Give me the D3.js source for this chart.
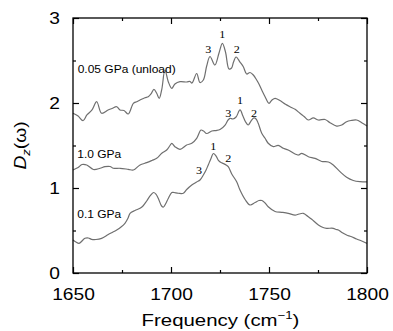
<!DOCTYPE html>
<html>
<head>
<meta charset="utf-8">
<script src="https://cdn.jsdelivr.net/npm/d3@7"></script>
<style>
  html, body { margin: 0; padding: 0; background: #fff; }
  svg { display: block; }
  .tick text { font-family: "Liberation Sans", Arial, sans-serif; fill: #000; }
  .peak { font-family: "Liberation Serif", "Times New Roman", serif; font-size: 11px; fill: #000; }
  .series-label { font-family: "Liberation Sans", Arial, sans-serif; font-size: 10px; fill: #000; }
  .axis-title { font-family: "Liberation Sans", Arial, sans-serif; font-size: 17px; fill: #000; }
</style>
</head>
<body>
<div id="chart"></div>
<script>
'use strict';

// Spectra: [frequency cm^-1, D_z]
const unload005 = [
    [1650, 1.879], [1652.6, 1.847], [1655.1, 1.792], [1657.1, 1.859], [1659.7, 1.918],
    [1662.1, 2.015], [1664.6, 1.879], [1667.9, 1.918], [1669.9, 1.935], [1672.3, 1.956],
    [1674.0, 1.918], [1676.0, 1.912], [1678.2, 1.871], [1680.8, 1.996], [1682.5, 2.015],
    [1684.2, 2.035], [1686.7, 2.062], [1688.4, 2.074], [1689.8, 2.106], [1691.3, 2.161],
    [1692.7, 2.114], [1694.0, 2.055], [1695.3, 2.161], [1696.9, 2.388], [1698.6, 2.251],
    [1700.4, 2.173], [1702.0, 2.224], [1704.6, 2.251], [1708.0, 2.247], [1709.7, 2.253],
    [1710.7, 2.235], [1713.1, 2.347], [1714.8, 2.241], [1716.5, 2.271], [1718.2, 2.435],
    [1719.9, 2.547], [1722.4, 2.447], [1724.5, 2.588], [1726.2, 2.702], [1727.8, 2.600],
    [1729.6, 2.400], [1730.9, 2.412], [1731.9, 2.482], [1733.2, 2.541], [1735.2, 2.482],
    [1736.9, 2.427], [1738.6, 2.341], [1740.3, 2.359], [1742.0, 2.329], [1743.7, 2.271],
    [1744.6, 2.235], [1746.3, 2.153], [1748.0, 2.074], [1750.0, 1.996], [1751.5, 2.035],
    [1753.1, 2.055], [1756.5, 2.015], [1758.2, 1.988], [1760.7, 1.956], [1763.3, 1.926],
    [1765.8, 1.879], [1767.9, 1.841], [1770.1, 1.800], [1772.6, 1.824], [1775.2, 1.800],
    [1778.6, 1.806], [1781.1, 1.768], [1784.5, 1.729], [1787.1, 1.741], [1789.6, 1.780],
    [1791.8, 1.794], [1794.7, 1.800], [1797.3, 1.768], [1800, 1.729]
];

const load10 = [
    [1650, 1.212], [1652.6, 1.241], [1654.6, 1.276], [1657.0, 1.271], [1660.4, 1.218],
    [1663.8, 1.232], [1666.3, 1.251], [1668.9, 1.253], [1670.6, 1.232], [1674.0, 1.232],
    [1678.2, 1.220], [1680.8, 1.212], [1684.2, 1.271], [1687.6, 1.298], [1690.3, 1.324],
    [1692.7, 1.349], [1695.3, 1.408], [1697.8, 1.447], [1699.5, 1.500], [1700.4, 1.526],
    [1702.0, 1.486], [1704.6, 1.455], [1708.0, 1.506], [1710.6, 1.526], [1713.1, 1.585],
    [1715.3, 1.682], [1716.6, 1.671], [1718.2, 1.641], [1720.8, 1.671], [1723.0, 1.676],
    [1725.0, 1.688], [1727.6, 1.741], [1729.1, 1.800], [1730.1, 1.820], [1731.6, 1.812],
    [1733.2, 1.835], [1735.2, 1.918], [1736.7, 1.847], [1738.0, 1.780], [1739.4, 1.741],
    [1740.8, 1.788], [1742.3, 1.824], [1743.4, 1.812], [1744.5, 1.761], [1746.3, 1.644],
    [1748.0, 1.585], [1749.6, 1.526], [1752.2, 1.486], [1754.7, 1.502], [1757.3, 1.467],
    [1759.8, 1.447], [1763.3, 1.400], [1765.0, 1.388], [1766.7, 1.408], [1770.1, 1.368],
    [1773.5, 1.349], [1776.9, 1.312], [1780.3, 1.306], [1782.8, 1.271], [1786.2, 1.192],
    [1789.6, 1.126], [1793.0, 1.088], [1796.4, 1.074], [1800, 1.071]
];

const load01 = [
    [1650, 0.388], [1651.5, 0.365], [1653.1, 0.349], [1656.1, 0.408], [1657.8, 0.412],
    [1659.5, 0.396], [1661.7, 0.394], [1664.6, 0.408], [1668.0, 0.453], [1670.4, 0.482],
    [1672.3, 0.506], [1674.5, 0.541], [1676.5, 0.585], [1678.1, 0.647], [1679.1, 0.702],
    [1681.6, 0.735], [1684.2, 0.761], [1685.7, 0.788], [1687.6, 0.847], [1689.3, 0.906],
    [1691.1, 0.947], [1692.3, 0.929], [1693.5, 0.879], [1695.2, 0.788], [1696.2, 0.776],
    [1697.2, 0.812], [1698.6, 0.876], [1700.4, 0.947], [1701.5, 0.947], [1703.7, 0.938],
    [1706.3, 0.938], [1708.0, 0.982], [1710.6, 1.035], [1713.1, 1.071], [1714.8, 1.094],
    [1716.5, 1.153], [1717.9, 1.212], [1719.0, 1.271], [1720.4, 1.347], [1721.6, 1.406],
    [1723.0, 1.376], [1724.1, 1.329], [1725.5, 1.300], [1726.7, 1.288], [1728.1, 1.271],
    [1729.2, 1.251], [1731.0, 1.165], [1733.5, 1.074], [1735.2, 0.976], [1737.8, 0.865],
    [1740.3, 0.800], [1742.9, 0.829], [1744.9, 0.853], [1746.4, 0.853], [1748.0, 0.824],
    [1749.6, 0.780], [1753.1, 0.724], [1756.5, 0.714], [1759.8, 0.702], [1763.3, 0.682],
    [1765.3, 0.694], [1767.5, 0.702], [1769.9, 0.665], [1771.8, 0.632], [1775.2, 0.565],
    [1777.6, 0.535], [1779.4, 0.526], [1782.8, 0.526], [1784.2, 0.512], [1785.4, 0.506],
    [1787.2, 0.476], [1789.6, 0.447], [1791.8, 0.429], [1794.7, 0.400], [1797.3, 0.376],
    [1800, 0.349]
];

const seriesList = [unload005, load10, load01];

// Series names, placed at [frequency, D_z] of the text baseline start
const seriesLabels = [
    { text: '0.05 GPa (unload)', f: 1652.4, v: 2.353 },
    { text: '1.0 GPa', f: 1652.2, v: 1.353 },
    { text: '0.1 GPa', f: 1652.2, v: 0.647 }
];

// Peak numbers
const peakLabels = [
    { text: '1', f: 1726.2, v: 2.765 }, { text: '3', f: 1719.0, v: 2.588 }, { text: '2', f: 1733.5, v: 2.588 },
    { text: '1', f: 1735.2, v: 1.988 }, { text: '3', f: 1729.2, v: 1.839 }, { text: '2', f: 1742.3, v: 1.839 },
    { text: '1', f: 1721.6, v: 1.447 }, { text: '2', f: 1729.2, v: 1.309 }, { text: '3', f: 1714.3, v: 1.165 }
];

const xMajor = [1650, 1700, 1750, 1800];
const xMinor = [1675, 1725, 1775];
const yMajor = [0, 1, 2, 3];
const yMinor = [0.5, 1.5, 2.5];

const width = 393, height = 331;
const margins = { left: 73, right: 26, top: 18, bottom: 58 };
const stretch = 1.2;

const svg = d3.select('#chart').append('svg')
    .attr('width', width)
    .attr('height', height);

const chartWidth = width - margins.left - margins.right;
const chartHeight = height - margins.top - margins.bottom;

const scaleX = d3.scaleLinear().domain([1650, 1800]).range([0, chartWidth]);
const scaleY = d3.scaleLinear().domain([0, 3]).range([chartHeight, 0]);

const chart = svg.append('g')
    .attr('transform', `translate(${margins.left}, ${margins.top})`);

// Curves
const line = d3.line()
    .x(d => scaleX(d[0]))
    .y(d => scaleY(d[1]))
    .curve(d3.curveCatmullRom.alpha(0.5));

chart.selectAll('path.spectrum')
    .data(seriesList)
    .join('path')
    .classed('spectrum', true)
    .attr('d', line)
    .attr('fill', 'none')
    .attr('stroke', '#6f6f6f')
    .attr('stroke-width', 1.2);

// Axes with inward ticks on all four sides
function addAxis(gen, transform, labels) {
    const g = chart.append('g').attr('transform', transform).call(gen);
    g.select('.domain').remove();
    g.selectAll('.tick line').attr('stroke', '#000').attr('stroke-width', 1.2);
    if (!labels) g.selectAll('.tick text').remove();
    return g;
}

const axisBottom = addAxis(
    d3.axisBottom(scaleX).tickValues(xMajor).tickSizeInner(-6).tickSizeOuter(0).tickPadding(15.5).tickFormat(d3.format('d')),
    `translate(0, ${chartHeight})`, true);
axisBottom.selectAll('.tick text')
    .style('font-size', '16px')
    .attr('transform', `scale(${stretch}, 1)`);

addAxis(d3.axisBottom(scaleX).tickValues(xMinor).tickSizeInner(-3).tickSizeOuter(0), `translate(0, ${chartHeight})`, false);
addAxis(d3.axisTop(scaleX).tickValues(xMajor).tickSizeInner(-6).tickSizeOuter(0), 'translate(0, 0)', false);
addAxis(d3.axisTop(scaleX).tickValues(xMinor).tickSizeInner(-3).tickSizeOuter(0), 'translate(0, 0)', false);

const axisLeft = addAxis(
    d3.axisLeft(scaleY).tickValues(yMajor).tickSizeInner(-6).tickSizeOuter(0).tickPadding(11).tickFormat(d3.format('d')),
    'translate(0, 0)', true);
axisLeft.selectAll('.tick text')
    .style('font-size', '16px')
    .attr('transform', `scale(${stretch}, 1)`);

addAxis(d3.axisLeft(scaleY).tickValues(yMinor).tickSizeInner(-3).tickSizeOuter(0), 'translate(0, 0)', false);
addAxis(d3.axisRight(scaleY).tickValues(yMajor).tickSizeInner(-6).tickSizeOuter(0), `translate(${chartWidth}, 0)`, false);
addAxis(d3.axisRight(scaleY).tickValues(yMinor).tickSizeInner(-3).tickSizeOuter(0), `translate(${chartWidth}, 0)`, false);

// Frame
chart.append('rect')
    .attr('width', chartWidth)
    .attr('height', chartHeight)
    .attr('fill', 'none')
    .attr('stroke', '#000')
    .attr('stroke-width', 1.3);

// Series names
chart.selectAll('text.series-label')
    .data(seriesLabels)
    .join('text')
    .classed('series-label', true)
    .attr('transform', d => `translate(${scaleX(d.f)}, ${scaleY(d.v)}) scale(${stretch}, 1)`)
    .text(d => d.text);

// Peak numbers
chart.selectAll('text.peak')
    .data(peakLabels)
    .join('text')
    .classed('peak', true)
    .attr('text-anchor', 'middle')
    .attr('transform', d => `translate(${scaleX(d.f)}, ${scaleY(d.v)}) scale(1.1, 1)`)
    .text(d => d.text);

// X axis title
const titleX = svg.append('text')
    .classed('axis-title', true)
    .attr('text-anchor', 'middle')
    .attr('transform', `translate(${margins.left + chartWidth / 2 + 0.5}, 326) scale(${stretch}, 1)`);
titleX.append('tspan').text('Frequency (cm');
titleX.append('tspan').attr('dy', -7).style('font-size', '11px').text('\u22121');
titleX.append('tspan').attr('dy', 7).text(')');

// Y axis title
const titleY = svg.append('text')
    .classed('axis-title', true)
    .attr('text-anchor', 'middle')
    .style('font-size', '16px')
    .attr('transform', `translate(26, ${margins.top + chartHeight / 2}) rotate(-90) scale(${stretch}, 1)`);
titleY.append('tspan').style('font-style', 'italic').text('D');
titleY.append('tspan').attr('dy', 4).style('font-size', '11px').style('font-style', 'italic').text('z');
titleY.append('tspan').attr('dy', -4).text('(\u03c9)');
</script>
</body>
</html>
